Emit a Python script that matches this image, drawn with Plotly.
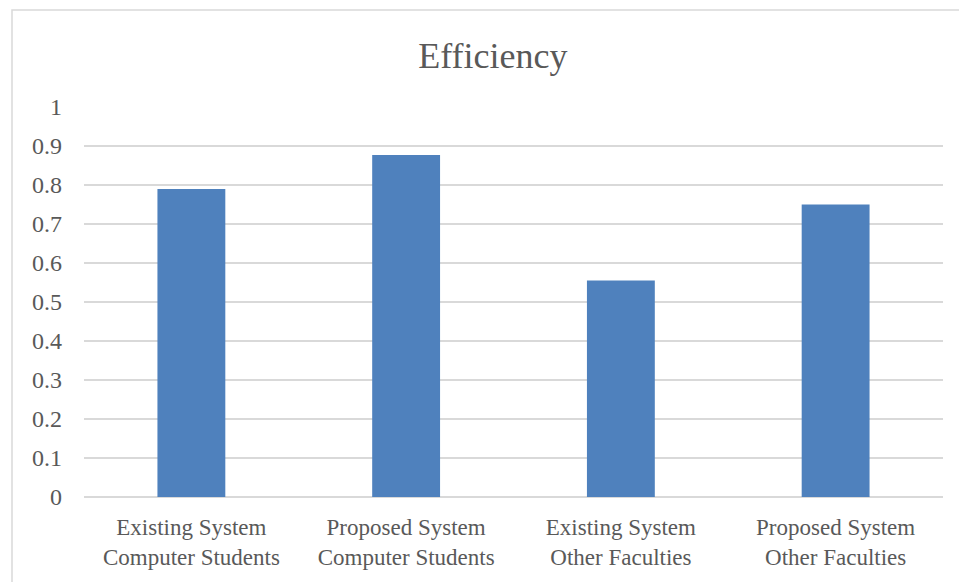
import plotly.graph_objects as go

categories = ["Existing System<br>Computer Students", "Proposed System<br>Computer Students",
              "Existing System<br>Other Faculties", "Proposed System<br>Other Faculties"]
values = [0.79, 0.877, 0.555, 0.75]
y_ticks = [0, 0.1, 0.2, 0.3, 0.4, 0.5, 0.6, 0.7, 0.8, 0.9, 1]
y_ticklabels = ["0", "0.1", "0.2", "0.3", "0.4", "0.5", "0.6", "0.7", "0.8", "0.9", "1"]

FONT = "Liberation Serif"
TXT = "#595959"

fig = go.Figure(go.Bar(x=categories, y=values, marker=dict(color="#4F81BD", line=dict(width=0))))

fig.update_layout(
    width=959, height=582,
    margin=dict(l=84, r=16, t=107, b=85),
    paper_bgcolor="white", plot_bgcolor="white",
    bargap=0.684,
    showlegend=False,
    title=dict(text="Efficiency", x=0.514, xanchor="center", y=0.905, yanchor="middle",
               font=dict(family=FONT, size=36, color=TXT)),
    font=dict(family=FONT, size=23, color=TXT),
    xaxis=dict(showgrid=False, showline=False, ticks="", ticklabelstandoff=14,
               tickfont=dict(size=23, color=TXT)),
    yaxis=dict(range=[0, 1], tickvals=y_ticks, ticktext=y_ticklabels,
               showgrid=True, gridcolor="#d9d9d9", gridwidth=1.5,
               zeroline=True, zerolinecolor="#d9d9d9", zerolinewidth=1.5,
               showline=False, ticks="", ticklabelstandoff=21,
               tickfont=dict(size=24, color=TXT)),
    shapes=[dict(type="rect", xref="paper", yref="paper", layer="below",
                 x0=-72/859, x1=1 + 40/859, y0=-120/390, y1=1 + 97/390,
                 line=dict(color="#d9d9d9", width=1.5), fillcolor="rgba(0,0,0,0)")],
)

fig.write_html("out.html")
